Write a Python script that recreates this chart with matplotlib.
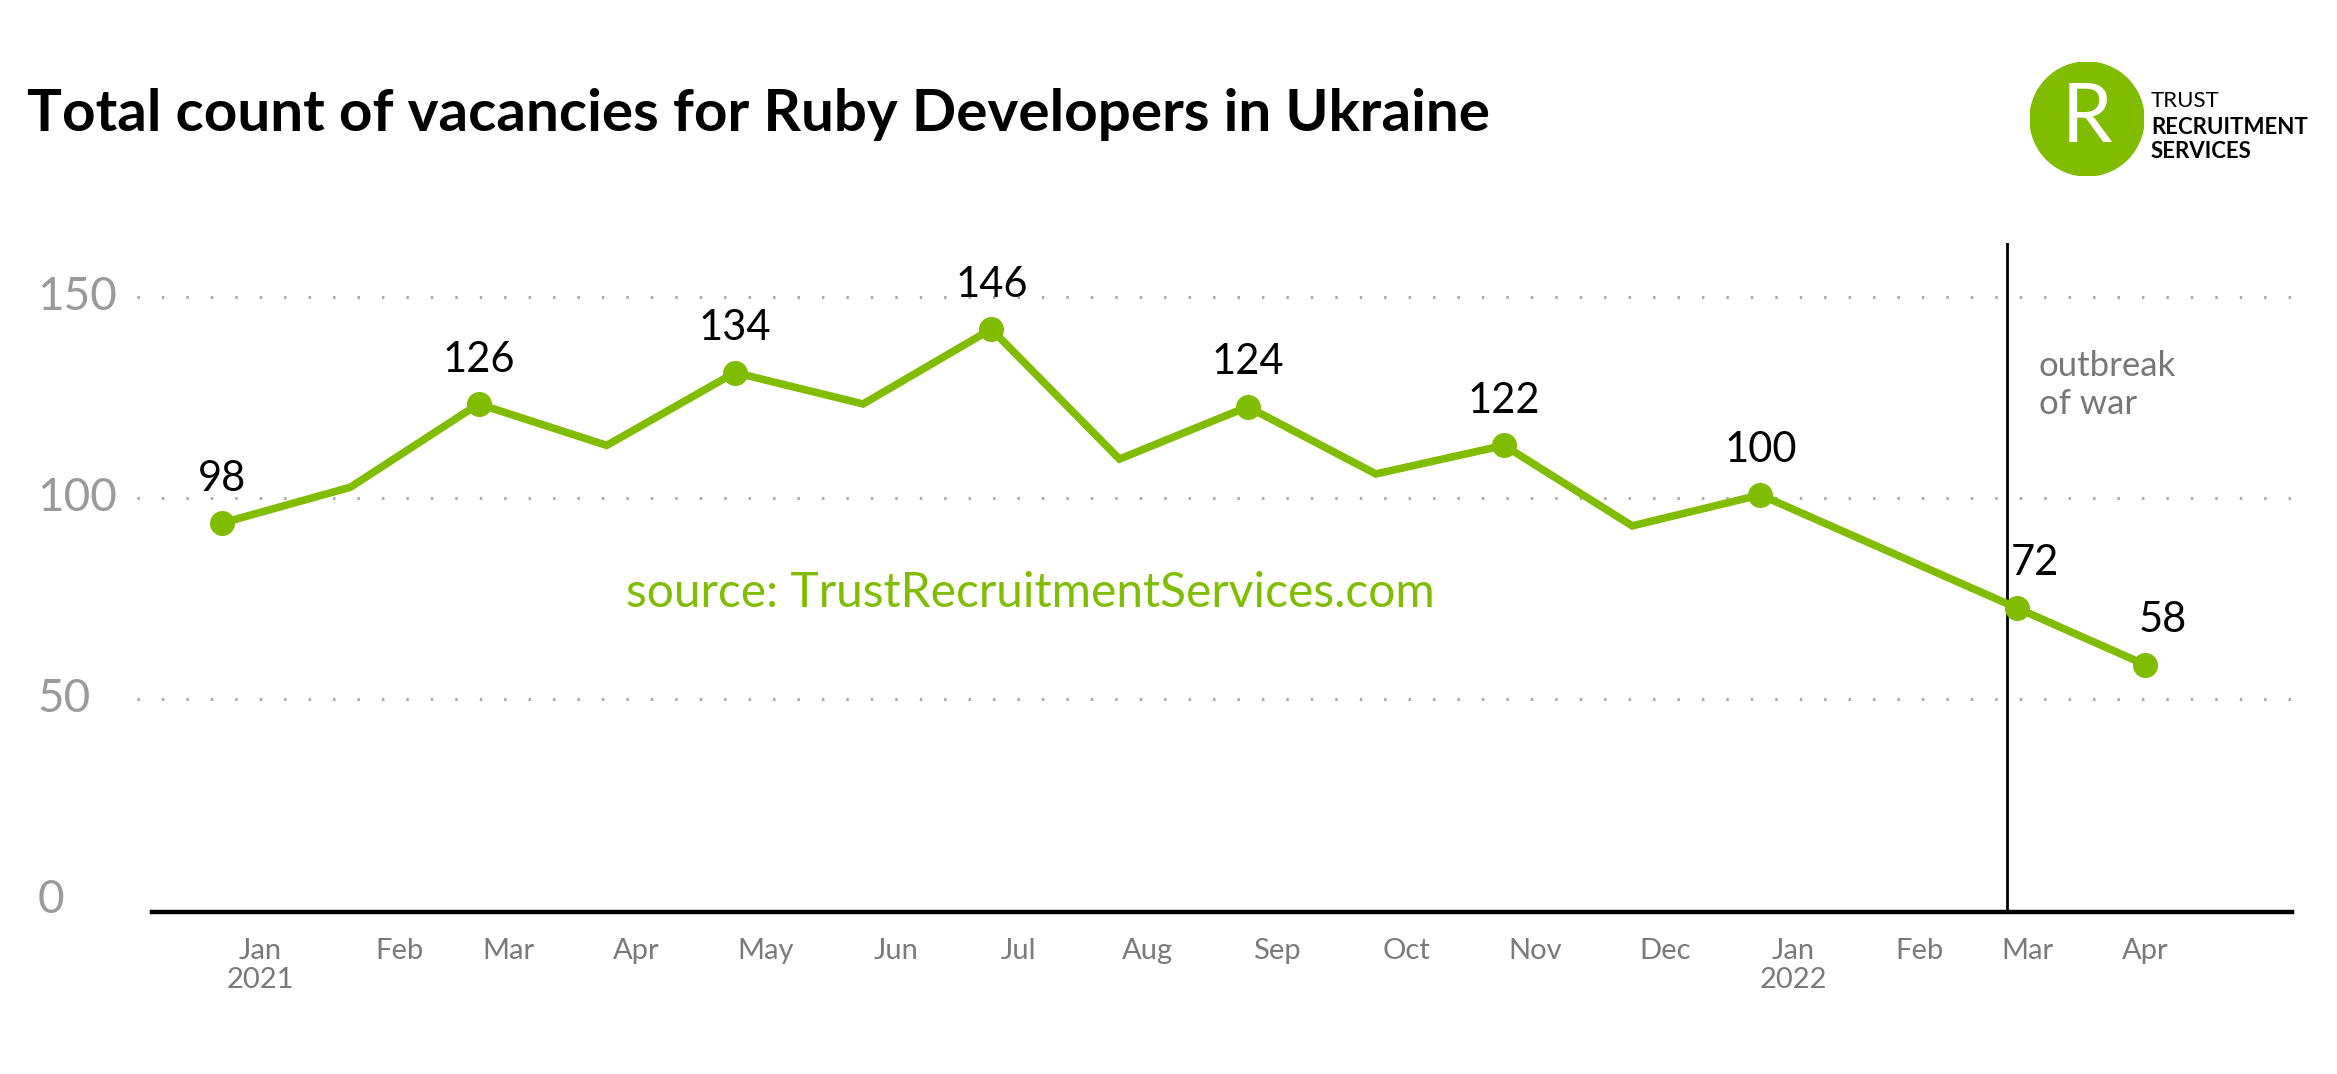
import matplotlib.pyplot as plt
from matplotlib.patches import Circle

GREEN = '#80bc00'

# months since Jan 2021 (Feb 2022 has no point in the original)
point_x = [0, 1, 2, 3, 4, 5, 6, 7, 8, 9, 10, 11, 12, 14, 15]
values = [93.7, 102.6, 123.3, 113.0, 131.1, 123.3, 141.9, 109.6, 122.6,
          105.9, 113.0, 93.0, 100.7, 72.6, 58.5]
point_labels = ['98', '', '126', '', '134', '', '146', '', '124', '',
                '122', '', '100', '72', '58']

tick_pos = [0.30, 1.38, 2.23, 3.23, 4.24, 5.26, 6.21, 7.22, 8.23, 9.24,
            10.24, 11.26, 12.26, 13.24, 14.08, 15.0]
tick_labels = ['Jan\n2021', 'Feb', 'Mar', 'Apr', 'May', 'Jun', 'Jul', 'Aug',
               'Sep', 'Oct', 'Nov', 'Dec', 'Jan\n2022', 'Feb', 'Mar', 'Apr']
y_ticks = [0, 50, 100, 150]
war_x = 13.92

plt.rcParams['font.family'] = ['Lato', 'DejaVu Sans']

fig = plt.figure(figsize=(23.37, 10.74), dpi=100)
ax = fig.add_axes([0.0587, 0.1508, 0.9222, 0.6229])
ax.set_xlim(-0.663, 16.15)
ax.set_ylim(-3, 163.3)

for y in y_ticks[1:]:
    ax.axhline(y, color='#aaaaaa', lw=2.2, dashes=(0.8, 7.2), zorder=1)
ax.plot([-0.547, 16.15], [-3, -3], color='black', lw=3.2, clip_on=False, zorder=2)
ax.axvline(war_x, color='black', lw=2, zorder=2)

ax.plot(point_x, values, color=GREEN, lw=5.5, solid_joinstyle='miter', zorder=3)
mx = [x for x, l in zip(point_x, point_labels) if l]
my = [v for v, l in zip(values, point_labels) if l]
ax.plot(mx, my, 'o', color=GREEN, ms=17, zorder=4)
for x, v, l in zip(point_x, values, point_labels):
    if not l:
        continue
    dx = 13 if x > war_x else 0
    ax.annotate(l, (x, v), xytext=(dx, 32), textcoords='offset points',
                ha='center', va='center', fontsize=30, color='black')

for s in ax.spines.values():
    s.set_visible(False)
ax.set_yticks([])
ax.set_xticks(tick_pos)
ax.set_xticklabels(tick_labels, fontsize=21, color='#7a7a7a', linespacing=1.1)
ax.tick_params(axis='x', length=0, pad=19)

# y tick labels, left aligned in figure space
for y in y_ticks:
    ax.text(-0.0464, y, str(y), transform=ax.get_yaxis_transform(),
            ha='left', va='center', fontsize=33, color='#9a9a9a')

ax.text(war_x + 0.25, 150 - 22, 'outbreak\nof war', ha='left', va='center',
        fontsize=25, color='#777777', linespacing=1.2)

fig.text(0.4407, 1 - 593 / 1074, 'source: TrustRecruitmentServices.com',
         ha='center', va='center', fontsize=34.5, color=GREEN)

fig.text(0.0115, 0.893, 'Total count of vacancies for Ruby Developers in Ukraine',
         ha='left', va='center', fontsize=42, fontweight='bold', color='black')

# logo
lax = fig.add_axes([2030 / 2337, 1 - 176 / 1074, 114 / 2337, 114 / 1074])
lax.set_xlim(-1, 1)
lax.set_ylim(-1, 1)
lax.set_aspect('equal')
lax.axis('off')
lax.add_patch(Circle((0, 0), 1, color=GREEN))
lax.text(0.0, 0.0, 'R', ha='center', va='center', fontsize=58, color='white')
fig.text(2151 / 2337, 1 - 101 / 1074, 'TRUST', fontsize=16,
         ha='left', va='center')
fig.text(2151 / 2337, 1 - 127 / 1074, 'RECRUITMENT', fontsize=16, fontweight='bold',
         ha='left', va='center')
fig.text(2151 / 2337, 1 - 152 / 1074, 'SERVICES', fontsize=16, fontweight='bold',
         ha='left', va='center')

fig.savefig('out.png', dpi=100, facecolor='white')
